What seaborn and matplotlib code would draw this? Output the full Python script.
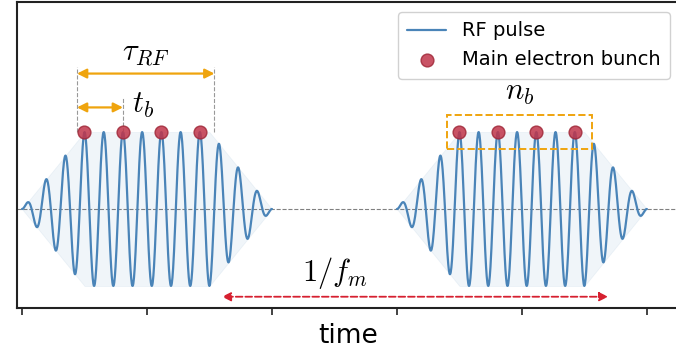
import numpy as np
import pandas as pd
import matplotlib
matplotlib.use("Agg")
import matplotlib.pyplot as plt
import seaborn as sns

# ---- data (time in units of tick spacing) ----
pulse_starts = [0.0, 3.0]          # start of each RF pulse
pulse_duration = 2.0               # total length of one pulse
pulse_ramp = 0.5                   # rise / fall time of the envelope
rf_cycles_per_unit = 6.5           # RF oscillation frequency
bunch_offsets = [0.5, 0.808, 1.115, 1.423]   # bunch times within a pulse
bunch_height = [1.0, 1.0, 1.0, 1.0]
tick_positions = [0, 1, 2, 3, 4, 5]

# build the RF pulse curve
rows = []
for p, t0 in enumerate(pulse_starts):
    t = np.linspace(0, pulse_duration, 800)
    env = np.clip(np.minimum(t, pulse_duration - t) / pulse_ramp, 0, 1)
    y = env * np.sin(2 * np.pi * rf_cycles_per_unit * t)
    for ti, yi, ei in zip(t, y, env):
        rows.append((t0 + ti, yi, ei, p))
df = pd.DataFrame(rows, columns=["time", "signal", "env", "pulse"])

bunches = pd.DataFrame(
    [(t0 + b, h) for t0 in pulse_starts for b, h in zip(bunch_offsets, bunch_height)],
    columns=["time", "signal"])

sns.set_style("white")
plt.rcParams["mathtext.fontset"] = "cm"
plt.rcParams["text.color"] = "black"
plt.rcParams["axes.labelcolor"] = "black"

fig = plt.figure(figsize=(6.76, 3.49), dpi=100)
# axes extend slightly past the right edge of the image (right spine cropped)
ax = fig.add_axes([17 / 676, 1 - 307.5 / 349, (680 - 17) / 676, (307.5 - 2) / 349])

line_col = "#4A84B8"
for p in df["pulse"].unique():
    d = df[df["pulse"] == p]
    ax.fill_between(d["time"], -d["env"], d["env"], color=line_col, alpha=0.08, lw=0.6,
                    edgecolor=(0.29, 0.52, 0.72, 0.12))
    sns.lineplot(data=d, x="time", y="signal", estimator=None, sort=False,
                 color=line_col, lw=1.6, ax=ax,
                 label="RF pulse" if p == 0 else None)
sns.scatterplot(data=bunches, x="time", y="signal", color="#C0354A", alpha=0.85,
                s=85, edgecolor="#A02838", linewidth=1.0, ax=ax, zorder=5,
                label="Main electron bunch")

ax.axhline(0, color="grey", ls="--", lw=0.8, zorder=0)

orange = "#EFA40E"
# tau_RF arrow
xl, xr, xt = 0.44, 1.54, 0.808
ax.vlines([xl, xr], 1.0, 1.85, colors="#999999", linestyles="--", lw=0.8)
ax.vlines([xt], 1.0, 1.45, colors="#999999", linestyles="--", lw=0.8)
ax.annotate("", xy=(xl, 1.76), xytext=(xr, 1.76),
            arrowprops=dict(arrowstyle="<|-|>", color=orange, lw=1.6, mutation_scale=14,
                            shrinkA=0, shrinkB=0))
ax.text((xl + xr) / 2, 1.83, r"$\tau_{RF}$", ha="center", va="bottom", fontsize=22)
ax.annotate("", xy=(xl, 1.32), xytext=(xt, 1.32),
            arrowprops=dict(arrowstyle="<|-|>", color=orange, lw=1.6, mutation_scale=14,
                            shrinkA=0, shrinkB=0))
ax.text(xt + 0.07, 1.34, r"$t_b$", ha="left", va="center", fontsize=22)

# n_b box
ax.add_patch(plt.Rectangle((3.4, 0.78), 1.16, 0.44, fill=False, ls="--",
                           edgecolor=orange, lw=1.4, zorder=6))
ax.text(3.98, 1.33, r"$n_b$", ha="center", va="bottom", fontsize=22)

# 1/f_m arrow
ax.annotate("", xy=(1.6, -1.14), xytext=(4.69, -1.14),
            arrowprops=dict(arrowstyle="<|-|>", color="#D62030", lw=1.3, ls="--",
                            mutation_scale=13, shrinkA=0, shrinkB=0))
ax.text(2.5, -0.83, r"$1/f_m$", ha="center", va="center", fontsize=22)

ax.set_xlim(-0.04, 5.265)
ax.set_ylim(-1.28, 2.69)
ax.set_xticks(tick_positions)
ax.set_xticklabels([])
ax.set_yticks([])
ax.tick_params(axis="x", direction="out", length=5, width=1.2, color="#222222", bottom=True)
ax.set_xlabel("time", fontsize=19, labelpad=3)
ax.set_ylabel("")
for s in ax.spines.values():
    s.set_visible(True)
    s.set_color("#222222")
    s.set_linewidth(1.5)

leg = ax.legend(loc="upper right", fontsize=14, frameon=True, framealpha=0.9,
                edgecolor="#cccccc", borderaxespad=0.5, handlelength=2.0,
                borderpad=0.5, labelspacing=0.5)
fig.savefig("out.png", dpi=100)
